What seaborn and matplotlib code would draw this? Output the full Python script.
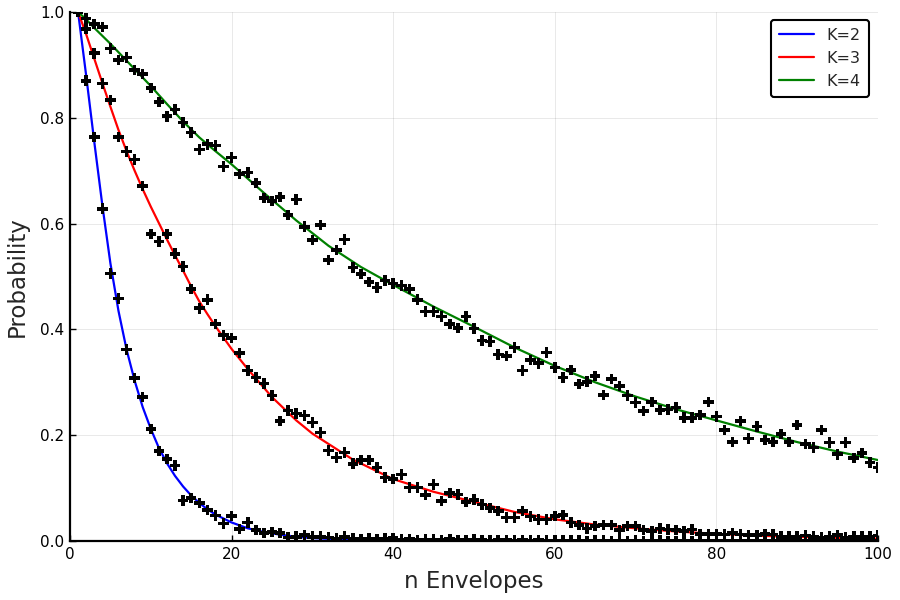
import numpy as np
import pandas as pd
import matplotlib
matplotlib.use("Agg")
import matplotlib.pyplot as plt
import seaborn as sns

# ---------------- data ----------------
n_env = list(range(1, 101))

sim_k2 = [1.0, 0.870, 0.764, 0.628, 0.506, 0.458, 0.362, 0.308, 0.272, 0.212,
          0.170, 0.155, 0.143, 0.077, 0.081, 0.072, 0.059, 0.048, 0.033, 0.047,
          0.023, 0.035, 0.021, 0.015, 0.017, 0.015, 0.007, 0.008, 0.011, 0.008,
          0.008, 0.007, 0.005, 0.008, 0.005, 0.004, 0.005, 0.004, 0.005, 0.006,
          0.003, 0.004, 0.002, 0.003, 0.003, 0.002, 0.004, 0.002, 0.002, 0.003,
          0.002, 0.001, 0.002, 0.002, 0.001, 0.002, 0.001, 0.002, 0.001, 0.001,
          0.001, 0.001, 0.001, 0.0, 0.001, 0.001, 0.0, 0.001, 0.0, 0.001,
          0.0, 0.0, 0.001, 0.0, 0.0, 0.001, 0.0, 0.0, 0.0, 0.001,
          0.0, 0.0, 0.0, 0.0, 0.0, 0.0, 0.0, 0.0, 0.0, 0.0,
          0.0, 0.0, 0.0, 0.0, 0.0, 0.0, 0.0, 0.0, 0.0, 0.0]

sim_k3 = [1.0, 0.968, 0.922, 0.865, 0.834, 0.764, 0.736, 0.721, 0.671, 0.580,
          0.566, 0.580, 0.543, 0.519, 0.476, 0.440, 0.456, 0.410, 0.389, 0.384,
          0.355, 0.322, 0.309, 0.298, 0.275, 0.227, 0.247, 0.241, 0.237, 0.224,
          0.205, 0.171, 0.158, 0.167, 0.146, 0.153, 0.153, 0.139, 0.120, 0.117,
          0.126, 0.101, 0.101, 0.087, 0.107, 0.076, 0.091, 0.088, 0.074, 0.078,
          0.069, 0.062, 0.057, 0.044, 0.044, 0.057, 0.046, 0.041, 0.041, 0.047,
          0.049, 0.035, 0.030, 0.024, 0.028, 0.030, 0.030, 0.021, 0.028, 0.028,
          0.021, 0.019, 0.024, 0.022, 0.021, 0.019, 0.022, 0.013, 0.013, 0.013,
          0.012, 0.015, 0.012, 0.011, 0.011, 0.013, 0.012, 0.008, 0.008, 0.008,
          0.010, 0.008, 0.007, 0.008, 0.011, 0.007, 0.008, 0.008, 0.008, 0.010]

sim_k4 = [1.0, 0.988, 0.977, 0.972, 0.931, 0.909, 0.914, 0.890, 0.883, 0.856,
          0.830, 0.803, 0.816, 0.791, 0.772, 0.740, 0.750, 0.748, 0.708, 0.725,
          0.694, 0.697, 0.677, 0.648, 0.643, 0.650, 0.616, 0.646, 0.594, 0.569,
          0.597, 0.531, 0.550, 0.570, 0.517, 0.505, 0.490, 0.479, 0.492, 0.487,
          0.483, 0.476, 0.456, 0.434, 0.434, 0.424, 0.410, 0.403, 0.424, 0.402,
          0.379, 0.377, 0.353, 0.350, 0.366, 0.322, 0.342, 0.336, 0.356, 0.328,
          0.309, 0.323, 0.297, 0.301, 0.312, 0.276, 0.306, 0.293, 0.275, 0.262,
          0.246, 0.263, 0.248, 0.249, 0.252, 0.233, 0.233, 0.238, 0.263, 0.235,
          0.210, 0.187, 0.227, 0.194, 0.216, 0.191, 0.187, 0.202, 0.187, 0.219,
          0.183, 0.177, 0.210, 0.186, 0.164, 0.186, 0.157, 0.166, 0.148, 0.139]

# smooth reference curves, read at selected n
curve_n_k2 = [1, 2, 3, 4, 5, 6, 7, 8, 9, 10, 11, 12, 13, 14, 15, 16, 17, 18, 20,
              22, 24, 26, 28, 30, 33, 36, 40, 45, 50, 60, 80, 100]
curve_p_k2 = [1.0, 0.88, 0.755, 0.635, 0.525, 0.435, 0.362, 0.303, 0.253, 0.212,
              0.176, 0.147, 0.123, 0.103, 0.086, 0.072, 0.060, 0.050, 0.035,
              0.024, 0.017, 0.012, 0.008, 0.0055, 0.0033, 0.002, 0.001, 0.0005,
              0.0002, 0.0, 0.0, 0.0]

curve_n_k3 = [1, 2, 3, 4, 5, 6, 7, 8, 9, 10, 11, 12, 13, 14, 15, 16, 17, 18, 20,
              22, 25, 28, 30, 35, 40, 45, 50, 55, 60, 65, 70, 75, 80, 85, 90,
              95, 100]
curve_p_k3 = [1.0, 0.958, 0.912, 0.866, 0.821, 0.777, 0.737, 0.700, 0.665, 0.632,
              0.601, 0.570, 0.540, 0.511, 0.481, 0.453, 0.429, 0.406, 0.363,
              0.325, 0.272, 0.228, 0.203, 0.154, 0.117, 0.093, 0.074, 0.055,
              0.041, 0.031, 0.024, 0.018, 0.0135, 0.010, 0.0078, 0.006, 0.0045]

curve_n_k4 = [1, 2, 3, 4, 5, 6, 7, 8, 9, 10, 12, 14, 16, 18, 20, 24, 28, 32, 36,
              40, 45, 50, 55, 60, 65, 70, 75, 80, 85, 90, 95, 100]
curve_p_k4 = [1.0, 0.986, 0.970, 0.955, 0.940, 0.924, 0.908, 0.892, 0.876, 0.860,
              0.826, 0.793, 0.763, 0.737, 0.712, 0.658, 0.606, 0.558, 0.518,
              0.484, 0.443, 0.405, 0.366, 0.331, 0.300, 0.273, 0.249, 0.228,
              0.207, 0.187, 0.169, 0.153]

series_labels = ["K=2", "K=3", "K=4"]
line_colors = ["#0000ff", "#ff0000", "#008000"]

x_ticks = [0, 20, 40, 60, 80, 100]
y_ticks = [0.0, 0.2, 0.4, 0.6, 0.8, 1.0]

# ---------------- build tables ----------------
curves = pd.concat([
    pd.DataFrame({"n": curve_n_k2, "p": curve_p_k2, "K": series_labels[0]}),
    pd.DataFrame({"n": curve_n_k3, "p": curve_p_k3, "K": series_labels[1]}),
    pd.DataFrame({"n": curve_n_k4, "p": curve_p_k4, "K": series_labels[2]}),
], ignore_index=True)

sims = pd.concat([
    pd.DataFrame({"n": n_env, "p": sim_k2, "K": series_labels[0]}),
    pd.DataFrame({"n": n_env, "p": sim_k3, "K": series_labels[1]}),
    pd.DataFrame({"n": n_env, "p": sim_k4, "K": series_labels[2]}),
], ignore_index=True)

# ---------------- plot ----------------
sns.set_theme(style="white")
plt.rcParams["font.family"] = ["DejaVu Sans"]

fig = plt.figure(figsize=(9, 6), dpi=100)
ax = fig.add_axes([70 / 900, 1 - 541 / 600, 808 / 900, 529 / 600])

sns.lineplot(data=curves, x="n", y="p", hue="K", palette=line_colors,
             hue_order=series_labels, linewidth=1.6, ax=ax, zorder=2,
             legend=True, sort=True)
sns.scatterplot(data=sims, x="n", y="p", color="black", marker="P", s=58,
                edgecolor="none", linewidth=0, ax=ax, zorder=3, legend=False)

ax.set_xlim(0, 100)
ax.set_ylim(0, 1.0)
ax.set_xticks(x_ticks)
ax.set_yticks(y_ticks)
ax.set_xticklabels([str(t) for t in x_ticks], fontsize=11)
ax.set_yticklabels([f"{t:.1f}" for t in y_ticks], fontsize=11)
ax.set_xlabel("n Envelopes", fontsize=16.5, labelpad=6)
ax.set_ylabel("Probability", fontsize=16.5, labelpad=8)

ax.grid(True, color="#000000", alpha=0.1, linewidth=0.6)
ax.set_axisbelow(True)
for s in ["top", "right"]:
    ax.spines[s].set_visible(False)
for s in ["left", "bottom"]:
    ax.spines[s].set_color("black")
    ax.spines[s].set_linewidth(1.6)
    ax.spines[s].set_zorder(4)
ax.tick_params(axis="both", direction="in", length=4, width=1, color="black",
               left=True, bottom=True, labelcolor="black", pad=4)

leg = ax.legend(loc="upper right", fontsize=11.5, frameon=True, fancybox=True,
                edgecolor="black", borderpad=0.5, handlelength=2.2,
                bbox_to_anchor=(0.9985, 1.0))
leg.get_frame().set_linewidth(1.5)
leg.get_frame().set_alpha(1)
leg.set_title(None)

fig.savefig("out.png", dpi=100)
